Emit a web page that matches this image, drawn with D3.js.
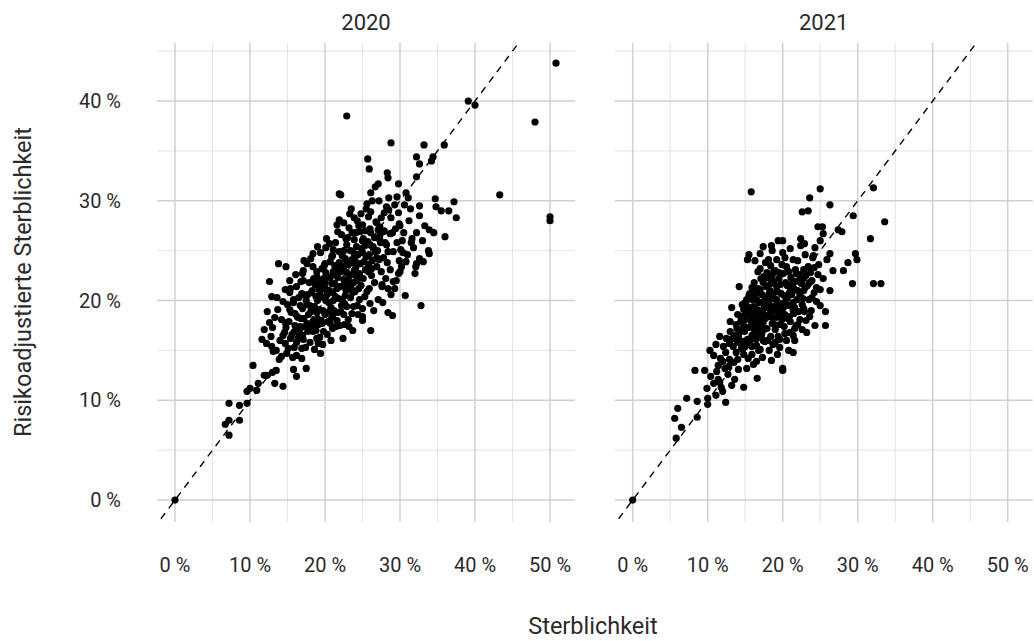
<!DOCTYPE html>
<html>
<head>
<meta charset="utf-8">
<script src="https://cdn.jsdelivr.net/npm/d3@7"></script>
<style>
  html, body { margin: 0; padding: 0; background: #fff; }
  svg { display: block; }
  text { font-family: Roboto, "DejaVu Sans", sans-serif; fill: #2a2a2a; }
</style>
</head>
<body>
<svg id="chart" width="1034" height="641"></svg>
<script>
// ---------- data ----------
const years = ["2020", "2021"];
const xTicks = [0, 10, 20, 30, 40, 50];
const xTickLabels = ["0 %", "10 %", "20 %", "30 %", "40 %", "50 %"];
const yTicks = [0, 10, 20, 30, 40];
const yTickLabels = ["0 %", "10 %", "20 %", "30 %", "40 %"];
const xMinor = [5, 15, 25, 35, 45];
const yMinor = [5, 15, 25, 35, 45];
const xTitle = "Sterblichkeit";
const yTitle = "Risikoadjustierte Sterblichkeit";

// [Sterblichkeit %, risikoadjustierte Sterblichkeit %]
const points2020 = [
  [0,0],[50.8,43.8],[39.1,40.0],[40.0,39.6],[22.9,38.5],[48.0,37.9],[28.8,35.8],[33.2,35.6],[35.9,35.6],
  [25.7,34.2],[32.2,34.4],[34.4,34.4],[34.2,34.0],[32.6,33.7],[25.9,33.2],[28.3,32.8],[28.4,32.3],[32.2,32.4],
  [27.1,31.7],[21.9,30.7],[22.1,30.6],[26.1,30.8],[30.8,30.8],[29.6,30.4],[31.1,30.3],[43.3,30.6],[34.7,30.2],
  [37.2,29.9],[32.6,29.5],[34.8,29.4],[35.5,29.0],[36.5,29.0],[37.5,28.3],[28.5,29.1],[29.8,28.8],[29.3,29.6],
  [50.0,28.4],[50.0,28.0],[23.3,28.7],[25.5,29.2],[21.9,28.1],[23.9,28.3],[25.8,28.4],[26.9,27.8],[27.3,27.4],
  [29.9,27.7],[27.8,26.9],[28.7,26.7],[33.3,27.5],[33.9,27.1],[34.5,26.8],[36.0,26.4],[32.2,26.8],[21.7,26.9],
  [22.8,26.2],[23.6,26.8],[24.7,26.9],[26.0,27.2],[25.1,26.2],[31.6,26.2],[31.5,25.8],[30.3,26.0],[30.1,25.1],
  [27.3,26.1],[28.0,25.8],[28.4,24.9],[26.4,25.4],[33.8,25.0],[32.6,24.2],[33.1,23.9],[32.2,23.7],[30.4,24.8],
  [30.8,23.9],[29.9,24.0],[30.0,22.9],[28.7,23.1],[32.1,23.4],[32.0,22.7],[29.8,22.7],[29.1,21.9],[29.3,21.2],
  [28.4,21.2],[27.6,21.4],[30.7,20.5],[32.8,19.5],[28.4,18.8],[29.0,18.5],[27.1,20.1],[26.0,19.7],[25.0,19.2],
  [25.0,18.4],[26.1,17.0],[23.2,17.4],[22.6,17.6],[21.0,18.4],[21.7,18.8],[23.8,19.4],[18.4,24.7],[17.2,24.0],
  [13.8,23.7],[14.8,23.4],[17.1,23.0],[17.6,23.7],[20.1,25.3],[21.1,25.1],[21.0,24.5],[20.0,23.7],[18.4,23.4],
  [12.6,21.9],[15.3,22.0],[17.1,22.0],[18.9,22.4],[19.8,22.2],[14.7,21.1],[15.3,20.8],[12.9,20.4],[13.6,20.3],
  [15.8,20.1],[16.9,20.7],[15.3,19.1],[16.0,18.7],[13.3,18.3],[14.2,18.1],[14.7,17.8],[12.6,17.8],[16.4,18.3],
  [16.7,17.4],[17.6,17.7],[18.4,17.6],[14.4,16.5],[15.9,16.9],[16.4,16.2],[17.1,16.1],[18.9,16.2],[19.1,15.7],
  [11.6,16.1],[12.2,15.7],[12.9,15.4],[14.7,15.7],[15.1,15.2],[13.1,14.9],[14.9,14.7],[16.2,14.5],[16.9,15.2],
  [19.4,14.7],[13.9,14.1],[10.4,13.5],[15.8,13.1],[16.2,12.4],[17.5,13.2],[13.5,13.0],[13.0,12.8],[11.9,12.5],
  [12.3,12.5],[13.3,11.7],[14.4,11.4],[11.1,11.7],[10.0,11.2],[9.6,10.9],[10.9,11.0],[9.6,9.7],[8.6,9.5],
  [7.2,9.7],[7.2,8.0],[6.7,7.6],[8.6,8.0],[7.2,6.5],
  [17.5,20.0],[18.0,19.5],[18.3,21.0],[18.8,20.4],[19.2,19.1],[19.5,21.6],[19.8,20.3],[20.2,21.1],[20.5,19.8],
  [20.7,22.3],[21.0,20.8],[21.3,21.7],[21.5,22.6],[21.8,20.2],[22.0,21.4],[22.3,23.0],[22.5,22.1],[22.8,21.0],
  [23.0,23.6],[23.3,22.5],[23.6,24.1],[23.8,21.8],[24.1,23.3],[24.4,24.6],[24.6,22.7],[24.9,25.2],[25.2,23.9],
  [25.5,24.4],[25.8,22.9],[26.0,25.6],[26.3,24.0],[26.6,26.3],[19.0,18.2],[19.6,17.7],[20.0,18.6],[20.4,17.9],
  [21.2,19.0],[22.1,18.9],[22.6,19.7],[23.4,20.3],[24.0,20.9],[24.8,21.5],[17.8,18.6],[18.5,18.0],[17.0,19.2],
  [17.3,17.4],[16.8,18.2],[16.5,20.3],[17.9,21.8],[18.9,22.9],[19.9,23.5],[20.9,24.4],[21.9,24.9],[22.9,25.6],
  [23.9,26.1],[24.5,27.5],[25.4,27.0],[26.8,27.9],[27.5,28.3],[26.1,28.9],[27.0,25.0],[27.8,24.3],[28.2,25.6],
  [27.5,22.9],[26.9,23.4],[25.9,21.2],[25.3,20.4],[24.3,19.5],[23.1,18.1],[22.0,17.5],[21.0,17.2],[20.3,16.6],
  [19.3,16.3],[18.4,16.9],[18.0,15.8],[17.4,15.3],[16.6,16.7],[16.0,17.5],[15.5,18.8],[15.0,19.6],[16.2,21.4],
  [17.0,22.7],[14.8,17.3],[14.0,16.0],[13.5,15.0],[12.8,16.4],[15.7,14.3],[16.9,14.2],[18.6,15.1],[19.7,15.6],
  [20.8,16.0],[22.4,16.2],[23.7,17.0],[25.0,18.0],[26.5,19.0],[27.7,19.8],[28.8,20.6],[29.5,22.0],[30.2,23.4],
  [31.0,24.6],[31.8,25.3],[29.0,26.8],[30.0,27.5],[31.2,28.0],[32.6,28.5],[33.0,26.0],[33.9,24.7],[28.5,30.3],
  [27.2,30.0],[23.2,27.3],[22.2,26.6],[21.4,25.8],[20.6,25.7],[19.4,24.8],[18.1,24.2],[19.0,25.4],[20.2,26.2],
  [21.6,27.6],[23.5,29.2],[24.8,28.7],[25.6,29.7],[26.7,31.4],[29.8,31.7],[31.4,29.2],[16.1,22.6],[15.4,21.2],
  [14.4,19.9],[13.7,19.1],[12.3,18.9],[11.9,17.1],[13.0,17.3],[14.2,14.4],[15.9,15.3],[17.7,16.9],[19.1,17.6],
  [20.9,18.3],[22.3,20.1],[23.7,20.8],[25.1,22.2],[26.2,22.5],[24.2,25.4],[25.7,25.9],[27.3,26.5],[28.8,28.3],
  [30.6,29.6],[21.3,23.5],[20.1,22.8],[22.7,24.2],[23.9,23.0],[19.3,20.6],[18.6,19.4],
  [18.2,20.8],[18.7,21.6],[19.3,22.0],[19.7,19.0],[20.1,20.0],[20.6,21.0],[20.9,21.7],[21.4,20.4],[21.7,22.3],
  [22.1,22.9],[22.4,21.5],[22.7,20.5],[23.1,22.1],[23.5,21.2],[23.8,22.7],[24.3,22.0],[24.7,23.7],[25.0,24.8],
  [25.4,23.1],[25.9,24.6],[26.4,25.3],[26.9,24.3],[27.4,25.8],[27.9,27.0],[24.0,24.0],[23.4,25.0],[22.6,23.5],
  [21.9,23.8],[21.1,22.9],[20.4,22.4],[19.6,21.1],[19.0,20.0],[18.1,18.9],[17.6,19.6],[17.1,20.6],[16.7,19.5],
  [16.3,18.4],[15.8,19.8],[15.2,17.9],[14.6,16.8],[15.4,16.2],[16.2,15.8],[17.0,16.5],[17.8,17.6],[18.8,17.0],
  [19.8,16.9],[20.7,17.7],[21.6,18.0],[22.5,18.6],[23.6,18.7],[24.6,20.1],[25.6,20.9],[26.6,21.8],[27.6,21.6],
  [28.3,23.8],[29.1,24.9],[29.6,25.8],[30.5,26.8],[28.1,22.2],[26.1,26.8],[25.0,26.0],[23.0,26.3],[24.3,28.0],
  [22.5,27.8],[26.3,30.0],[28.2,29.4],[29.4,27.2],[27.9,28.8],
  [19.9,21.4],[20.3,20.6],[20.8,19.3],[21.1,20.0],[21.6,21.2],[22.2,19.5],[22.9,22.8],[23.2,21.6],[23.9,24.7],
  [24.5,21.2],[24.2,22.4],[25.3,25.5],[25.8,23.6],[26.2,23.2],[26.7,24.9],[27.2,24.1],[27.1,27.1],[25.0,27.6],
  [24.1,26.8],[22.3,24.5],[21.8,23.3],[20.7,23.9],[19.6,23.2],[18.5,22.2],[17.7,20.6],[17.2,18.2],[18.1,17.3],
  [18.9,18.8],[19.5,18.0],[20.5,18.9],[21.5,17.4],[22.9,19.4],[24.4,18.6],[16.4,17.1],[15.6,16.6],[16.8,21.9],
  [19.2,21.1],[20.0,21.8],[22.5,25.0],[23.5,23.8]
];

const points2021 = [
  [0,0],[15.8,30.9],[25.0,31.2],[32.1,31.3],[23.6,30.3],[26.3,29.6],[22.6,28.9],[23.4,29.0],[29.4,28.5],
  [33.6,27.9],[24.7,27.4],[25.3,27.4],[27.9,26.9],[27.4,27.1],[25.4,26.7],[25.0,26.0],[22.4,26.2],[22.9,25.7],
  [31.7,26.2],[20.0,26.0],[17.4,25.4],[18.5,25.5],[15.5,24.6],[15.3,24.1],[17.0,24.7],[24.3,25.3],[24.1,24.5],
  [26.3,24.7],[25.9,24.1],[29.7,24.7],[29.9,24.1],[28.7,23.8],[28.1,23.0],[26.7,23.0],[24.7,22.6],[25.4,22.2],
  [26.3,21.0],[25.0,21.1],[29.3,21.7],[32.1,21.7],[33.1,21.7],[25.7,18.9],[25.7,17.5],[14.2,21.4],[13.2,19.3],
  [13.0,17.9],[16.7,22.9],[18.1,24.1],[19.2,24.1],[20.3,24.3],[21.4,24.1],[22.8,23.1],[21.7,23.1],[20.1,22.7],
  [18.8,22.9],[17.5,22.4],[23.6,21.8],[22.8,21.0],[21.0,21.3],[19.7,21.6],[18.4,21.7],[17.0,21.1],[15.6,20.7],
  [15.2,20.1],[16.5,20.1],[17.9,20.4],[19.2,20.1],[20.6,20.2],[21.9,20.1],[23.5,20.1],[24.5,19.9],[22.8,19.2],
  [21.4,19.0],[20.1,19.3],[18.8,19.0],[17.5,19.2],[16.1,19.4],[14.8,19.1],[14.8,18.4],[16.1,18.4],[17.5,18.2],
  [18.6,17.7],[19.9,18.1],[21.0,17.9],[22.3,18.1],[23.6,18.4],[21.6,17.2],[20.3,16.7],[19.0,17.1],[17.5,17.1],
  [16.1,17.2],[14.8,17.4],[13.9,17.2],[13.0,16.9],[14.1,16.4],[15.3,16.1],[16.5,16.2],[17.6,15.9],[19.4,16.4],
  [19.6,16.1],[21.4,16.5],[12.5,16.2],[11.6,16.4],[11.1,15.6],[12.1,15.4],[13.4,15.4],[14.5,15.2],[15.9,15.4],
  [17.0,15.1],[10.3,15.0],[10.8,14.5],[11.7,14.2],[12.9,14.1],[14.0,14.1],[15.4,14.2],[16.5,13.9],[16.1,13.6],
  [18.5,14.0],[19.3,14.6],[20.8,15.0],[21.4,14.8],[20.0,13.2],[20.0,13.0],[11.4,13.5],[12.3,13.2],[11.2,12.9],
  [13.6,12.1],[14.8,11.3],[16.6,12.2],[8.3,13.0],[9.6,13.0],[10.8,11.7],[11.8,11.3],[11.1,10.5],[10.0,10.2],
  [10.0,9.6],[8.6,9.9],[7.2,10.2],[12.4,9.8],[6.0,9.2],[5.6,8.2],[6.5,7.3],[5.8,6.2],[8.6,8.3],
  [16.8,19.8],[17.2,20.6],[17.8,21.4],[18.2,19.6],[18.9,20.8],[19.5,22.2],[19.9,19.7],[20.4,21.8],[20.8,22.9],
  [21.2,20.6],[21.7,21.9],[22.2,22.6],[22.6,19.6],[23.0,21.3],[23.4,23.4],[23.9,22.0],[24.2,20.8],[18.4,18.9],
  [19.1,18.3],[19.6,17.6],[20.3,18.6],[20.9,19.5],[21.5,18.7],[22.0,17.6],[17.4,17.8],[16.9,17.0],[16.3,16.8],
  [15.8,17.9],[15.1,18.5],[14.4,17.9],[13.6,16.5],[12.9,15.7],[13.8,14.8],[14.9,16.9],[15.6,15.8],[16.8,15.0],
  [18.0,16.0],[18.7,15.6],[19.0,23.0],[18.0,22.3],[17.0,23.2],[16.2,21.8],[15.5,20.5],[16.0,19.0],[20.0,24.8],
  [21.0,25.2],[22.0,24.0],[23.0,24.6],[24.0,24.3],[24.8,23.6],[22.4,25.5],[19.4,26.0],[16.3,24.0],[18.6,25.0],
  [21.6,16.0],[23.2,16.8],[24.3,17.5],[25.0,19.5],[23.8,19.0],[22.9,18.9],[15.2,13.2],[14.1,13.1],[12.7,12.6],
  [13.2,11.5],[12.0,10.9],[11.4,12.1],[10.4,12.4],[9.9,11.2],
  [14.0,18.6],[14.6,19.6],[15.3,19.4],[15.9,20.1],[16.4,20.8],[16.6,18.2],[17.1,18.7],[17.6,19.4],[18.0,20.0],
  [18.3,21.0],[18.8,21.9],[19.3,20.9],[19.7,19.0],[20.2,20.5],[20.6,21.5],[21.1,22.3],[21.5,21.2],[22.0,21.0],
  [22.5,21.7],[23.1,22.5],[23.7,22.8],[24.2,23.3],[21.8,22.7],[20.5,23.4],[19.9,23.6],[18.4,23.5],[17.7,23.8],
  [17.4,21.8],[16.7,21.2],[15.9,21.3],[15.0,19.8],[14.4,18.4],[13.8,17.6],[13.3,16.2],[14.0,15.8],[14.7,15.9],
  [15.4,17.3],[15.9,16.5],[16.5,15.5],[17.2,16.6],[17.9,17.2],[18.4,16.4],[19.0,15.8],[19.6,15.3],[20.5,16.0],
  [21.0,16.8],[21.8,17.5],[22.6,17.1],[23.1,18.0],[23.9,20.3],[24.5,21.3],[22.3,20.5],[21.4,19.8],[20.7,18.2],
  [19.4,19.4],[18.6,18.3],[17.8,18.5],[16.9,18.0],[16.2,17.6],[15.5,18.7],[12.4,14.8],[13.5,13.8],[12.0,13.9],
  [14.8,14.6],[15.9,14.6],[17.3,14.3],[11.6,11.8],[12.8,13.4],
  [16.6,19.1],[17.0,19.8],[17.6,20.1],[18.2,20.7],[18.7,20.2],[19.2,21.4],[19.8,20.7],[20.3,19.8],[20.9,20.8],
  [21.3,21.7],[22.1,22.0],[22.8,22.2],[23.3,21.5],[19.5,22.8],[18.6,22.5],[17.9,22.8],[17.1,22.2],[16.3,20.6],
  [15.4,19.0],[14.9,18.0],[15.8,18.3],[16.4,18.9],[17.3,19.0],[18.2,18.4],[18.9,17.6],[19.5,18.7],[20.2,17.4],
  [20.9,18.4],[21.6,19.3],[22.1,18.9],[22.7,20.2],[19.0,19.5],[18.3,19.2],[16.0,16.2],[15.0,15.4],[14.3,16.9],
  [13.9,16.3],[17.4,16.0],[18.2,15.0],[16.8,17.5]
];

const dataByYear = { "2020": points2020, "2021": points2021 };

// ---------- layout ----------
const svg = d3.select("#chart");
const panelLeft = [157, 614.7];
const panelWidth = 418;
const xDomain = [-2.4, 53.333];
const yDomain = [-2.2, 45.82];
const yRange = [522, 43];

const y = d3.scaleLinear().domain(yDomain).range(yRange);
const defs = svg.append("defs");

years.forEach((yr, i) => {
  const x = d3.scaleLinear().domain(xDomain).range([panelLeft[i], panelLeft[i] + panelWidth]);
  const g = svg.append("g");

  defs.append("clipPath").attr("id", "clip" + i)
    .append("rect")
    .attr("x", panelLeft[i]).attr("y", yRange[1])
    .attr("width", panelWidth).attr("height", yRange[0] - yRange[1]);

  // minor grid
  g.selectAll(".vminor").data(xMinor).join("line")
    .attr("x1", d => x(d)).attr("x2", d => x(d))
    .attr("y1", yRange[0]).attr("y2", yRange[1])
    .attr("stroke", "#e0e0e0").attr("stroke-width", 0.9);
  g.selectAll(".hminor").data(yMinor).join("line")
    .attr("x1", panelLeft[i]).attr("x2", panelLeft[i] + panelWidth)
    .attr("y1", d => y(d)).attr("y2", d => y(d))
    .attr("stroke", "#e0e0e0").attr("stroke-width", 0.9);
  // major grid
  g.selectAll(".vmajor").data(xTicks).join("line")
    .attr("x1", d => x(d)).attr("x2", d => x(d))
    .attr("y1", yRange[0]).attr("y2", yRange[1])
    .attr("stroke", "#d0d0d0").attr("stroke-width", 1.5);
  g.selectAll(".hmajor").data(yTicks).join("line")
    .attr("x1", panelLeft[i]).attr("x2", panelLeft[i] + panelWidth)
    .attr("y1", d => y(d)).attr("y2", d => y(d))
    .attr("stroke", "#d0d0d0").attr("stroke-width", 1.5);

  // identity line
  g.append("line")
    .attr("clip-path", "url(#clip" + i + ")")
    .attr("x1", x(-5)).attr("y1", y(-5))
    .attr("x2", x(60)).attr("y2", y(60))
    .attr("stroke", "#000").attr("stroke-width", 1.4)
    .attr("stroke-dasharray", "7,6");

  // points
  g.append("g").attr("clip-path", "url(#clip" + i + ")")
    .selectAll("circle").data(dataByYear[yr]).join("circle")
    .attr("cx", d => x(d[0])).attr("cy", d => y(d[1]))
    .attr("r", 3.6).attr("fill", "#000");

  // strip label
  g.append("text")
    .attr("x", panelLeft[i] + panelWidth / 2).attr("y", 30)
    .attr("text-anchor", "middle")
    .attr("font-size", 22)
    .text(yr);

  // x tick labels
  g.selectAll(".xt").data(xTicks).join("text")
    .attr("x", d => x(d)).attr("y", 572)
    .attr("text-anchor", "middle")
    .attr("font-size", 20)
    .text((d, k) => xTickLabels[k]);
});

// y tick labels
svg.selectAll(".yt").data(yTicks).join("text")
  .attr("x", 121).attr("y", d => y(d) + 7)
  .attr("text-anchor", "end")
  .attr("font-size", 20)
  .text((d, k) => yTickLabels[k]);

// axis titles
svg.append("text")
  .attr("x", 593).attr("y", 634)
  .attr("text-anchor", "middle")
  .attr("font-size", 23.5)
  .text(xTitle);

svg.append("text")
  .attr("transform", "translate(31,282) rotate(-90)")
  .attr("text-anchor", "middle")
  .attr("font-size", 23.5)
  .text(yTitle);
</script>
</body>
</html>
